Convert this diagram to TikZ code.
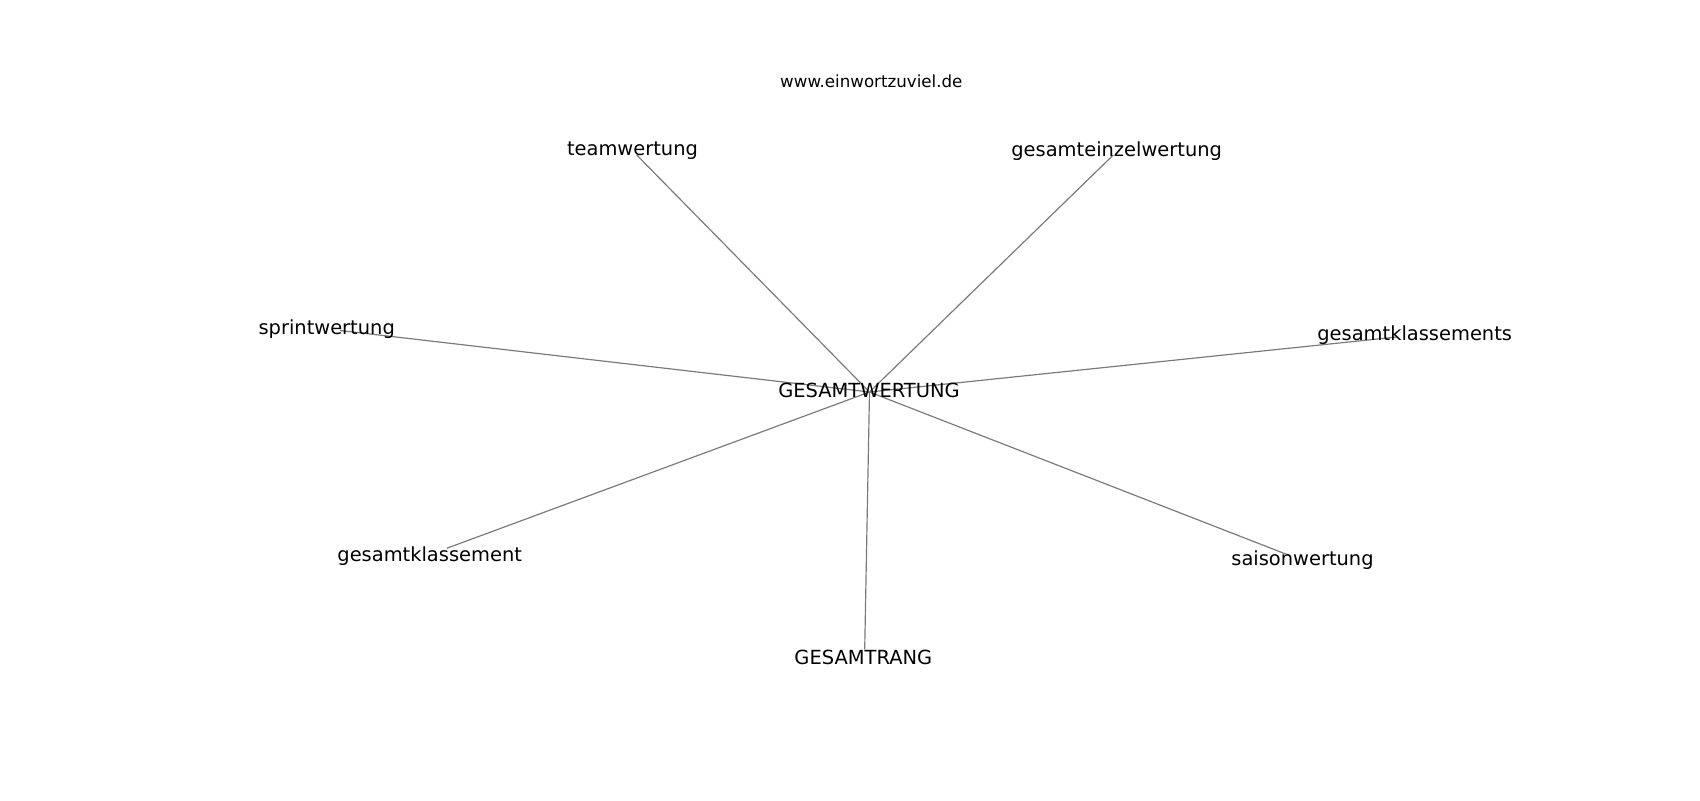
\documentclass[tikz,border=0pt]{standalone}
\usepackage{fontspec}
\setmainfont{DejaVu Sans}
\begin{document}
\begin{tikzpicture}[x=0.72pt,y=-0.72pt,
  lbl/.style={anchor=base,inner sep=0pt,font=\fontsize{14pt}{16pt}\selectfont,text=black},
  url/.style={anchor=base,inner sep=0pt,font=\fontsize{12pt}{14pt}\selectfont,text=black},
  edge/.style={draw=black!52,line width=0.85pt}]
\useasboundingbox[fill=white] (0,0) rectangle (1700,800);
% graph vertices
\coordinate (hub) at (869.5,392);
\coordinate (vteam) at (636.7,155);
\coordinate (vein) at (1113.3,155);
\coordinate (vsprint) at (340,330.5);
\coordinate (vklss) at (1396.7,337);
\coordinate (vkls) at (446.7,548.3);
\coordinate (vsaison) at (1288.3,555);
\coordinate (vrang) at (864.7,649.3);
% edges
\draw[edge] (hub) -- (vteam);
\draw[edge] (hub) -- (vein);
\draw[edge] (hub) -- (vsprint);
\draw[edge] (hub) -- (vklss);
\draw[edge] (hub) -- (vkls);
\draw[edge] (hub) -- (vsaison);
\draw[edge] (hub) -- (vrang);
% labels
\node[url] (title) at (871.3,87.3) {www.einwortzuviel.de};
\node[lbl] (lhub) at (869,397.3) {GESAMTWERTUNG};
\node[lbl] (lteam) at (632.5,155) {teamwertung};
\node[lbl] (lein) at (1116.7,156.7) {gesamteinzelwertung};
\node[lbl] (lsprint) at (326.7,334.3) {sprintwertung};
\node[lbl] (lklss) at (1414.7,340) {gesamtklassements};
\node[lbl] (lkls) at (429.7,561.7) {gesamtklassement};
\node[lbl] (lsaison) at (1302.5,565) {saisonwertung};
\node[lbl] (lrang) at (863.3,664) {GESAMTRANG};
\end{tikzpicture}
\end{document}
